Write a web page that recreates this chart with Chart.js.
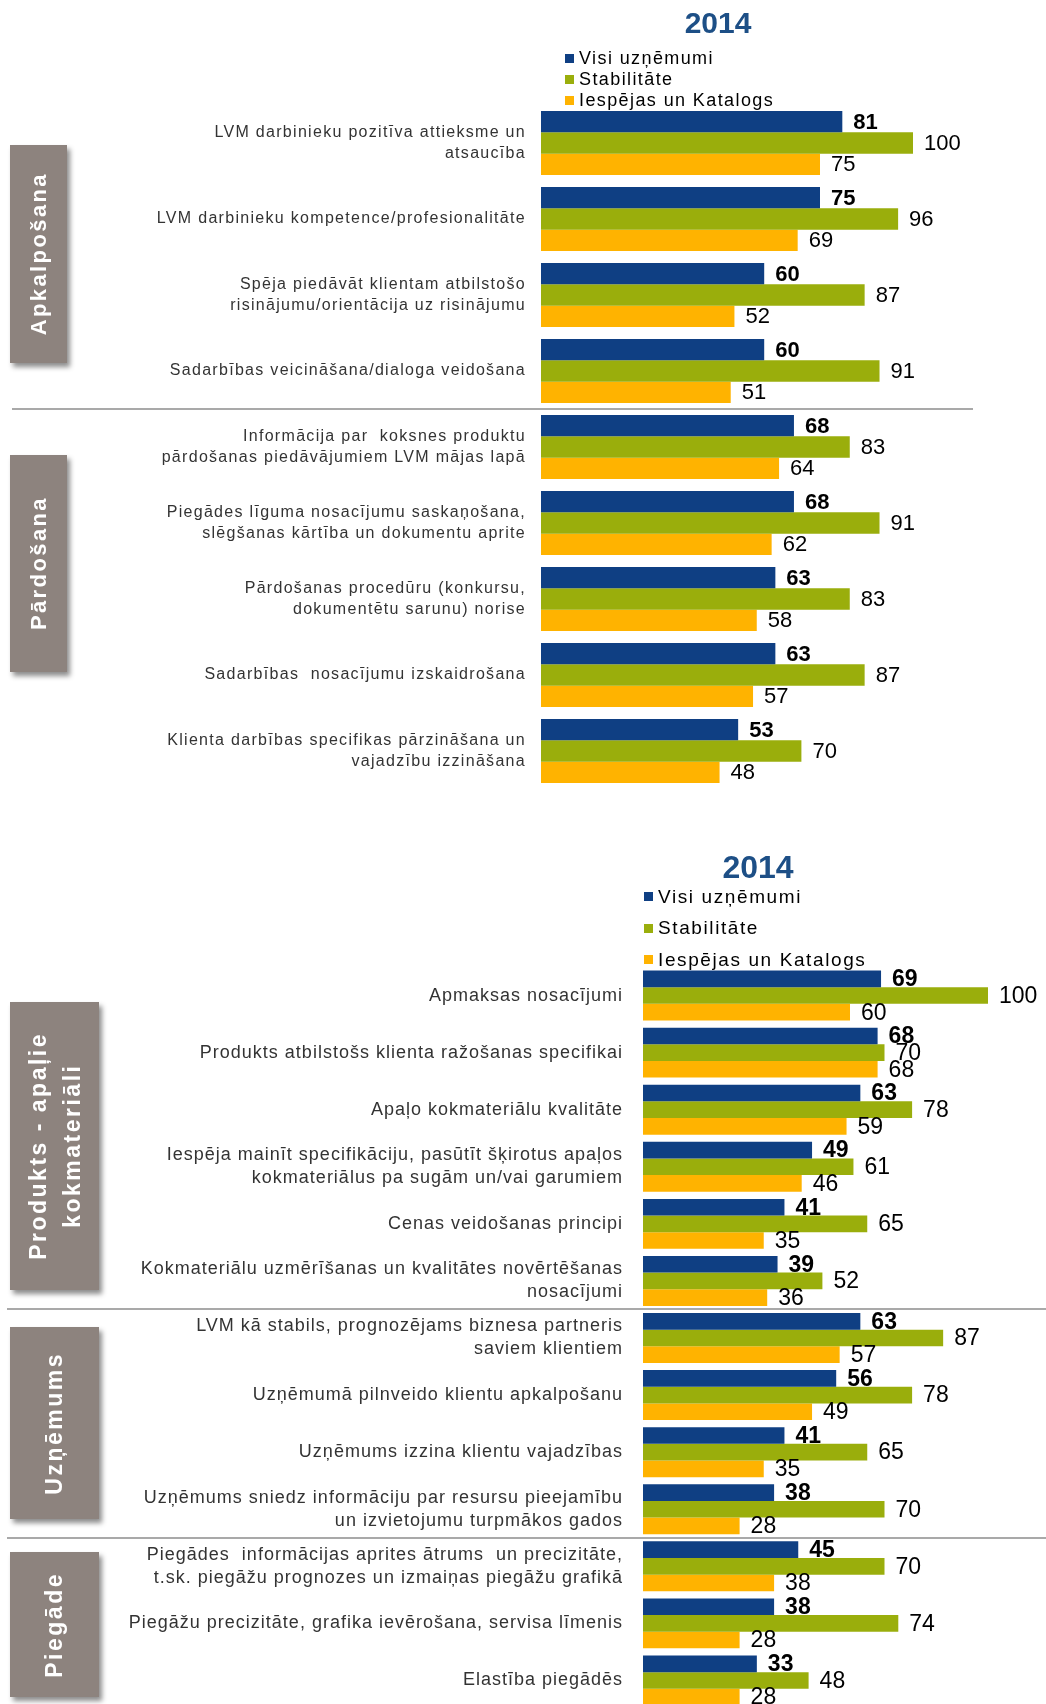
<!DOCTYPE html>
<html lang="lv">
<head>
  <meta charset="UTF-8">
  <meta name="viewport" content="width=device-width, initial-scale=1.0">
  <title>Klientu vērtējums 2014</title>
  <style>
    html, body {
      margin: 0;
      padding: 0;
      background: #fff;
      overflow: hidden;
    }
    body {
      position: relative;
      width: 1046px;
      height: 1704px;
      font-family: "Liberation Sans", Arial, sans-serif;
    }
    canvas {
      position: absolute;
      left: 0;
    }
    #topChart { top: 0; }
    #bottomChart { top: 830px; }
    .year {
      position: absolute;
      width: 160px;
      text-align: center;
      font-weight: bold;
      color: #1d4f86;
    }
    .legend {
      position: absolute;
      color: #000;
    }
    .legend div {
      display: flex;
      align-items: center;
      white-space: nowrap;
    }
    .legend .box {
      width: 9px;
      height: 9px;
      margin-right: 5px;
      flex: none;
    }
    .side {
      position: absolute;
      left: 10px;
      background: #8d837e;
      box-shadow: 3px 4px 5px rgba(0, 0, 0, .45);
      color: #fff;
      font-weight: bold;
      display: flex;
      align-items: center;
      justify-content: center;
    }
    .side span {
      writing-mode: vertical-rl;
      transform: rotate(180deg);
      text-align: center;
      white-space: nowrap;
    }
  </style>
</head>
<body>
  <canvas id="topChart" width="1046" height="800"></canvas>
  <canvas id="bottomChart" width="1046" height="890"></canvas>

  <div class="year" style="left:638px; top:8px; font-size:30px; line-height:30px;">2014</div>
  <div class="year" style="left:678px; top:850px; font-size:32px; line-height:34px;">2014</div>

  <div class="legend" id="legendTop" style="left:565px; top:48px; font-size:18px; letter-spacing:1.4px;"></div>
  <div class="legend" id="legendBottom" style="left:644px; top:881px; font-size:19px; letter-spacing:1.6px;"></div>

  <div class="side" style="top:145px; width:57px; height:218px; font-size:22px; letter-spacing:2.4px;"><span>Apkalpošana</span></div>
  <div class="side" style="top:455px; width:57px; height:217px; font-size:22px; letter-spacing:2.4px;"><span>Pārdošana</span></div>
  <div class="side" style="top:1002px; width:89px; height:288px; font-size:23px; line-height:34px; letter-spacing:2.5px;"><span>Produkts - apaļie<br>kokmateriāli</span></div>
  <div class="side" style="top:1327px; width:89px; height:192px; font-size:23px; letter-spacing:2.5px;"><span>Uzņēmums</span></div>
  <div class="side" style="top:1552px; width:89px; height:145px; font-size:23px; letter-spacing:2.5px;"><span>Piegāde</span></div>

  <script src="https://cdn.jsdelivr.net/npm/chart.js"></script>
  <script>
  const FONT = '"Liberation Sans", Arial, sans-serif'

  const seriesNames = ['Visi uzņēmumi', 'Stabilitāte', 'Iespējas un Katalogs']
  const seriesColors = ['#0f3f83', '#9aae0c', '#ffb300']

  // upper block: Apkalpošana + Pārdošana
  const topLabels = [
    ['LVM darbinieku pozitīva attieksme un', 'atsaucība'],
    'LVM darbinieku kompetence/profesionalitāte',
    ['Spēja piedāvāt klientam atbilstošo', 'risinājumu/orientācija uz risinājumu'],
    'Sadarbības veicināšana/dialoga veidošana',
    ['Informācija par  koksnes produktu', 'pārdošanas piedāvājumiem LVM mājas lapā'],
    ['Piegādes līguma nosacījumu saskaņošana,', 'slēgšanas kārtība un dokumentu aprite'],
    ['Pārdošanas procedūru (konkursu,', 'dokumentētu sarunu) norise'],
    'Sadarbības  nosacījumu izskaidrošana',
    ['Klienta darbības specifikas pārzināšana un', 'vajadzību izzināšana']
  ]
  const topAll = [81, 75, 60, 60, 68, 68, 63, 63, 53]
  const topStab = [100, 96, 87, 91, 83, 91, 83, 87, 70]
  const topKat = [75, 69, 52, 51, 64, 62, 58, 57, 48]
  const topBreaks = [4]

  // lower block: Produkts, Uzņēmums, Piegāde
  const bottomLabels = [
    'Apmaksas nosacījumi',
    'Produkts atbilstošs klienta ražošanas specifikai',
    'Apaļo kokmateriālu kvalitāte',
    ['Iespēja mainīt specifikāciju, pasūtīt šķirotus apaļos', 'kokmateriālus pa sugām un/vai garumiem'],
    'Cenas veidošanas principi',
    ['Kokmateriālu uzmērīšanas un kvalitātes novērtēšanas', 'nosacījumi'],
    ['LVM kā stabils, prognozējams biznesa partneris', 'saviem klientiem'],
    'Uzņēmumā pilnveido klientu apkalpošanu',
    'Uzņēmums izzina klientu vajadzības',
    ['Uzņēmums sniedz informāciju par resursu pieejamību', 'un izvietojumu turpmākos gados'],
    ['Piegādes  informācijas aprites ātrums  un precizitāte,', 't.sk. piegāžu prognozes un izmaiņas piegāžu grafikā'],
    'Piegāžu precizitāte, grafika ievērošana, servisa līmenis',
    'Elastība piegādēs'
  ]
  const bottomAll = [69, 68, 63, 49, 41, 39, 63, 56, 41, 38, 45, 38, 33]
  const bottomStab = [100, 70, 78, 61, 65, 52, 87, 78, 65, 70, 70, 74, 48]
  const bottomKat = [60, 68, 59, 46, 35, 36, 57, 49, 35, 28, 38, 28, 28]
  const bottomBreaks = [6, 10]

  // spaced-out category text, only while the scales are painted
  const tickSpacing = {
    id: 'tickSpacing',
    beforeDraw(chart, args, opts) {
      chart.ctx.letterSpacing = opts.spacing || '0px'
    },
    beforeDatasetsDraw(chart) {
      chart.ctx.letterSpacing = '0px'
    }
  }

  const valueLabels = {
    id: 'valueLabels',
    afterDatasetsDraw(chart, args, opts) {
      const ctx = chart.ctx
      ctx.save()
      ctx.textAlign = 'left'
      ctx.textBaseline = 'middle'
      ctx.fillStyle = '#000'
      chart.data.datasets.forEach((ds, i) => {
        ctx.font = (i === 0 ? 'bold ' : '') + opts.size + 'px ' + FONT
        chart.getDatasetMeta(i).data.forEach((bar, j) => {
          ctx.fillText(ds.data[j], bar.x + opts.offset, bar.y + 1)
        })
      })
      ctx.restore()
    }
  }

  // grey rule between sections
  const sectionLines = {
    id: 'sectionLines',
    afterDraw(chart, args, opts) {
      const y = chart.scales.y
      const ctx = chart.ctx
      ctx.save()
      ctx.strokeStyle = '#a9a9a9'
      ctx.lineWidth = 2
      opts.breaks.forEach(b => {
        const py = Math.round((y.getPixelForValue(b - 1) + y.getPixelForValue(b)) / 2)
        ctx.beginPath()
        ctx.moveTo(opts.from, py)
        ctx.lineTo(opts.to, py)
        ctx.stroke()
      })
      ctx.restore()
    }
  }

  function makeChart(id, labels, values, cfg) {
    return new Chart(document.getElementById(id), {
      type: 'bar',
      data: {
        labels: labels,
        datasets: values.map((v, i) => ({
          label: seriesNames[i],
          data: v,
          backgroundColor: seriesColors[i],
          barPercentage: 1,
          categoryPercentage: cfg.catPct
        }))
      },
      options: {
        indexAxis: 'y',
        responsive: false,
        animation: false,
        devicePixelRatio: 1,
        layout: { padding: cfg.padding },
        scales: {
          x: { display: false, min: 0, max: 100 },
          y: {
            grid: { display: false },
            border: { display: false },
            ticks: {
              autoSkip: false,
              color: '#333',
              padding: cfg.tickPad,
              font: { family: FONT, size: cfg.tickSize, lineHeight: cfg.lineHeight }
            },
            afterFit(scale) {
              scale.width = cfg.axisWidth
              // keep the band height fixed, labels may overhang
              scale.paddingTop = 0
              scale.paddingBottom = 0
            }
          }
        },
        plugins: {
          legend: { display: false },
          tooltip: { enabled: false },
          tickSpacing: { spacing: cfg.spacing },
          valueLabels: { size: cfg.valueSize, offset: 11 },
          sectionLines: { breaks: cfg.breaks, from: cfg.lineFrom, to: cfg.lineTo }
        }
      },
      plugins: [tickSpacing, valueLabels, sectionLines]
    })
  }

  makeChart('topChart', topLabels, [topAll, topStab, topKat], {
    catPct: 0.84,
    padding: { top: 105, bottom: 11, left: 0, right: 133 },
    axisWidth: 541,
    tickPad: 7,
    tickSize: 16,
    lineHeight: 1.27,
    spacing: '1.3px',
    valueSize: 22,
    breaks: topBreaks,
    lineFrom: 12,
    lineTo: 973
  })

  makeChart('bottomChart', bottomLabels, [bottomAll, bottomStab, bottomKat], {
    catPct: 0.875,
    padding: { top: 137, bottom: 11, left: 0, right: 58 },
    axisWidth: 643,
    tickPad: 12,
    tickSize: 18,
    lineHeight: 1.28,
    spacing: '1px',
    valueSize: 23,
    breaks: bottomBreaks,
    lineFrom: 7,
    lineTo: 1046
  })

  function buildLegend(id, rowHeight) {
    const el = document.getElementById(id)
    seriesNames.forEach((name, i) => {
      const row = document.createElement('div')
      row.style.height = rowHeight + 'px'
      const box = document.createElement('span')
      box.className = 'box'
      box.style.background = seriesColors[i]
      row.appendChild(box)
      row.appendChild(document.createTextNode(name))
      el.appendChild(row)
    })
  }
  buildLegend('legendTop', 21)
  buildLegend('legendBottom', 31.5)
  </script>
</body>
</html>
